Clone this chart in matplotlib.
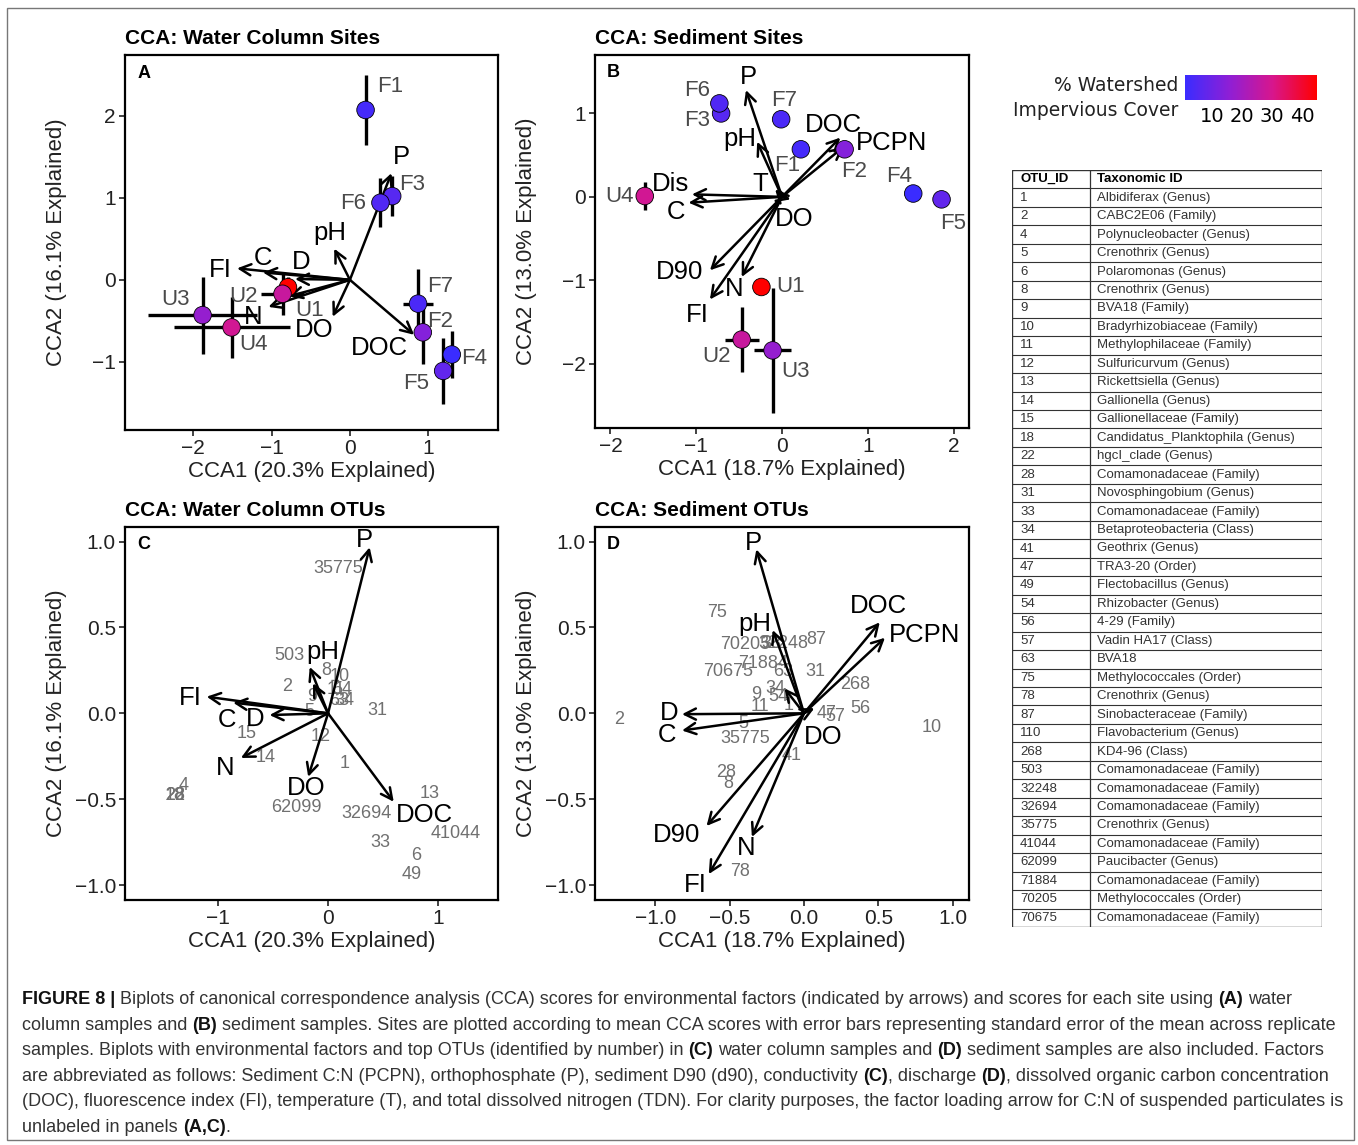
import matplotlib
matplotlib.use("Agg")
import matplotlib.pyplot as plt
from matplotlib import font_manager
from matplotlib.cm import ScalarMappable
from matplotlib.colors import LinearSegmentedColormap, Normalize
from matplotlib.patches import Rectangle

plt.rcParams["font.family"] = ["Liberation Sans", "DejaVu Sans"]

W, H = 1358, 1145

# ---------------- sites (panels A and B) ----------------
site_names = ["F1", "F2", "F3", "F4", "F5", "F6", "F7", "U1", "U2", "U3", "U4"]
impervious = [3, 14, 6, 1, 8, 5, 4, 45, 27, 17, 29]

wc_x = [0.20, 0.93, 0.54, 1.30, 1.19, 0.39, 0.87, -0.79, -0.86, -1.88, -1.51]
wc_y = [2.07, -0.64, 1.02, -0.91, -1.11, 0.94, -0.29, -0.09, -0.17, -0.43, -0.58]
wc_xerr = [0.03, 0.05, 0.05, 0.05, 0.05, 0.05, 0.19, 0.10, 0.28, 0.70, 0.74]
wc_yerr = [0.43, 0.39, 0.24, 0.29, 0.40, 0.30, 0.42, 0.12, 0.26, 0.47, 0.37]
wc_lab_x = [0.51, 1.15, 0.79, 1.59, 0.85, 0.04, 1.15, -0.51, -1.36, -2.23, -1.23]
wc_lab_y = [2.36, -0.51, 1.16, -0.96, -1.26, 0.93, -0.08, -0.37, -0.20, -0.24, -0.79]

sed_x = [0.22, 0.73, -0.71, 1.53, 1.86, -0.73, -0.01, -0.24, -0.47, -0.11, -1.60]
sed_y = [0.57, 0.57, 1.00, 0.04, -0.03, 1.12, 0.93, -1.08, -1.71, -1.84, 0.01]
sed_xerr = [0.03, 0.05, 0.03, 0.03, 0.05, 0.03, 0.03, 0.06, 0.20, 0.22, 0.03]
sed_yerr = [0.03, 0.05, 0.03, 0.03, 0.06, 0.03, 0.06, 0.06, 0.39, 0.75, 0.17]
sed_lab_x = [0.06, 0.84, -0.99, 1.36, 1.99, -0.99, 0.03, 0.10, -0.76, 0.16, -1.90]
sed_lab_y = [0.37, 0.30, 0.91, 0.24, -0.32, 1.28, 1.16, -1.08, -1.91, -2.09, 0.01]

# ---------------- environmental arrows ----------------
a_env = ["P", "pH", "D", "C", "FI", "N", "DO", "DOC", ""]
a_tip_x = [0.53, -0.20, -0.70, -1.11, -1.44, -1.04, -0.22, 0.82, -0.78]
a_tip_y = [1.30, 0.38, 0.01, 0.09, 0.14, -0.33, -0.45, -0.67, -0.20]
a_lab_x = [0.66, -0.25, -0.62, -1.11, -1.66, -1.24, -0.45, 0.38, 0]
a_lab_y = [1.50, 0.57, 0.22, 0.27, 0.12, -0.45, -0.61, -0.83, 0]

b_env = ["P", "pH", "T", "DOC", "PCPN", "Dis", "C", "DO", "D90", "FI", "N"]
b_tip_x = [-0.42, -0.29, -0.08, 0.68, 0.72, -1.05, -1.09, 0.10, -0.84, -0.84, -0.47]
b_tip_y = [1.28, 0.66, 0.09, 0.71, 0.60, 0.03, -0.07, -0.03, -0.88, -1.23, -0.96]
b_lab_x = [-0.39, -0.49, -0.25, 0.60, 1.28, -1.30, -1.24, 0.14, -1.19, -0.99, -0.56]
b_lab_y = [1.44, 0.69, 0.16, 0.86, 0.64, 0.16, -0.18, -0.26, -0.90, -1.41, -1.11]

c_env = ["P", "pH", "", "FI", "C", "D", "N", "DO", "DOC"]
c_tip_x = [0.377, -0.166, -0.136, -1.10, -0.86, -0.53, -0.79, -0.18, 0.595]
c_tip_y = [0.967, 0.27, 0.175, 0.097, 0.062, -0.01, -0.26, -0.37, -0.515]
c_lab_x = [0.33, -0.045, 0, -1.25, -0.92, -0.66, -0.93, -0.196, 0.875]
c_lab_y = [1.01, 0.36, 0, 0.087, -0.04, -0.035, -0.32, -0.437, -0.59]

d_env = ["P", "pH", "", "DOC", "PCPN", "D", "C", "DO", "D90", "FI", "N"]
d_tip_x = [-0.32, -0.21, -0.13, 0.51, 0.545, -0.82, -0.82, 0.07, -0.655, -0.64, -0.35]
d_tip_y = [0.955, 0.485, 0.145, 0.53, 0.44, -0.005, -0.10, 0.03, -0.656, -0.936, -0.72]
d_lab_x = [-0.34, -0.33, 0, 0.50, 0.81, -0.905, -0.92, 0.13, -0.856, -0.733, -0.385]
d_lab_y = [0.99, 0.52, 0, 0.625, 0.456, 0.0, -0.126, -0.136, -0.709, -1.0, -0.786]

# ---------------- OTU scores (panels C and D) ----------------
c_otu = ["35775", "503", "8", "10", "11", "54", "63", "34", "9", "5", "2", "31", "15",
         "12", "14", "1", "4", "18", "22", "28", "62099", "32694", "13", "41044",
         "33", "6", "49"]
c_otu_x = [0.09, -0.35, -0.015, 0.106, 0.07, 0.13, 0.10, 0.15, -0.14, -0.17, -0.37, 0.45,
           -0.74, -0.07, -0.57, 0.15, -1.31, -1.39, -1.39, -1.39, -0.29, 0.35, 0.92, 1.16,
           0.47, 0.80, 0.76]
c_otu_y = [0.845, 0.334, 0.25, 0.213, 0.14, 0.136, 0.077, 0.077, 0.10, 0.01, 0.155, 0.015,
           -0.117, -0.136, -0.256, -0.29, -0.42, -0.48, -0.48, -0.48, -0.55, -0.586, -0.466,
           -0.70, -0.75, -0.83, -0.94]

d_otu = ["75", "70205", "33", "32248", "87", "71884", "70675", "63", "31", "268", "34",
         "54", "9", "11", "1", "47", "57", "56", "5", "35775", "41", "28", "8", "2", "10", "78"]
d_otu_x = [-0.587, -0.397, -0.217, -0.14, 0.085, -0.274, -0.51, -0.14, 0.074, 0.343, -0.195,
           -0.173, -0.318, -0.296, -0.106, 0.153, 0.208, 0.377, -0.408, -0.397, -0.083, -0.52,
           -0.51, -1.24, 0.86, -0.43]
d_otu_y = [0.59, 0.398, 0.408, 0.408, 0.427, 0.291, 0.242, 0.242, 0.242, 0.165, 0.146,
           0.097, 0.107, 0.038, 0.048, 0.0, -0.02, 0.029, -0.058, -0.146, -0.243, -0.344,
           -0.41, -0.035, -0.08, -0.92]

# ---------------- OTU table ----------------
otu_ids = ["1", "2", "4", "5", "6", "8", "9", "10", "11", "12", "13", "14", "15", "18",
           "22", "28", "31", "33", "34", "41", "47", "49", "54", "56", "57", "63", "75",
           "78", "87", "110", "268", "503", "32248", "32694", "35775", "41044", "62099",
           "71884", "70205", "70675"]
taxa = ["Albidiferax (Genus)", "CABC2E06 (Family)", "Polynucleobacter (Genus)",
        "Crenothrix (Genus)", "Polaromonas (Genus)", "Crenothrix (Genus)", "BVA18 (Family)",
        "Bradyrhizobiaceae (Family)", "Methylophilaceae (Family)", "Sulfuricurvum (Genus)",
        "Rickettsiella (Genus)", "Gallionella (Genus)", "Gallionellaceae (Family)",
        "Candidatus_Planktophila (Genus)", "hgcI_clade (Genus)", "Comamonadaceae (Family)",
        "Novosphingobium (Genus)", "Comamonadaceae (Family)", "Betaproteobacteria (Class)",
        "Geothrix (Genus)", "TRA3-20 (Order)", "Flectobacillus (Genus)", "Rhizobacter (Genus)",
        "4-29 (Family)", "Vadin HA17 (Class)", "BVA18", "Methylococcales (Order)",
        "Crenothrix (Genus)", "Sinobacteraceae (Family)", "Flavobacterium (Genus)",
        "KD4-96 (Class)", "Comamonadaceae (Family)", "Comamonadaceae (Family)",
        "Comamonadaceae (Family)", "Crenothrix (Genus)", "Comamonadaceae (Family)",
        "Paucibacter (Genus)", "Comamonadaceae (Family)", "Methylococcales (Order)",
        "Comamonadaceae (Family)"]

caption = [
    [("FIGURE 8 |", True), (" Biplots of canonical correspondence analysis (CCA) scores for environmental "
     "factors (indicated by arrows) and scores for each site using ", False), ("(A)", True),
     (" water", False)],
    [("column samples and ", False), ("(B)", True), (" sediment samples. Sites are plotted according "
     "to mean CCA scores with error bars representing standard error of the mean across replicate", False)],
    [("samples. Biplots with environmental factors and top OTUs (identified by number) in ", False),
     ("(C)", True), (" water column samples and ", False), ("(D)", True),
     (" sediment samples are also included. Factors", False)],
    [("are abbreviated as follows: Sediment C:N (PCPN), orthophosphate (P), sediment D90 (d90), "
      "conductivity ", False), ("(C)", True), (", discharge ", False), ("(D)", True),
     (", dissolved organic carbon concentration", False)],
    [("(DOC), fluorescence index (FI), temperature (T), and total dissolved nitrogen (TDN). For "
      "clarity purposes, the factor loading arrow for C:N of suspended particulates is", False)],
    [("unlabeled in panels ", False), ("(A,C)", True), (".", False)],
]

cmap = LinearSegmentedColormap.from_list("imperv", ["#3a2cff", "#8e1fd6", "#d8168c", "#ff0000"])
norm = Normalize(vmin=1, vmax=45)


def px_axes(fig, left, top, right, bottom):
    return fig.add_axes([left / W, 1 - bottom / H, (right - left) / W, (bottom - top) / H])


def style_axes(ax, title, letter, xlab, ylab, xlim, ylim, xticks, yticks):
    ax.set_xlim(*xlim)
    ax.set_ylim(*ylim)
    ax.set_xticks(xticks)
    ax.set_yticks(yticks)
    for sp in ax.spines.values():
        sp.set_linewidth(1.6)
    ax.tick_params(length=4.5, width=1.2, labelsize=15, pad=2, colors="#222222")
    ax.set_title(title, loc="left", fontsize=15, fontweight="bold", pad=8)
    ax.text(0.05, 0.952, letter, transform=ax.transAxes, fontsize=13, fontweight="bold",
            ha="center", va="center")
    ax.set_xlabel(xlab, fontsize=16, color="#222222")
    ax.set_ylabel(ylab, fontsize=16, color="#222222")
    ax.xaxis.set_label_coords(0.5, -0.082)
    ax.yaxis.set_label_coords(-0.155, 0.5)


def draw_arrows(ax, names, tx, ty, lx, ly):
    for name, x, y, a, b in zip(names, tx, ty, lx, ly):
        ax.annotate("", xy=(x, y), xytext=(0, 0),
                    arrowprops=dict(arrowstyle="->", color="black", lw=1.8,
                                    mutation_scale=20, shrinkA=0, shrinkB=0), zorder=3)
        if name:
            ax.text(a, b, name, fontsize=18.5, ha="center", va="center", zorder=6)


def draw_sites(ax, xs, ys, xerr, yerr, lab_x, lab_y):
    ax.errorbar(xs, ys, xerr=xerr, yerr=yerr, fmt="none", ecolor="black",
                elinewidth=2.4, capsize=0, zorder=2)
    ax.scatter(xs, ys, c=impervious, cmap=cmap, norm=norm, s=160,
               edgecolors="black", linewidths=0.6, zorder=4)
    for name, a, b in zip(site_names, lab_x, lab_y):
        ax.text(a, b, name, fontsize=16, color="#4a4a4a", ha="center", va="center", zorder=5)


def draw_otus(ax, ids, xs, ys):
    for name, a, b in zip(ids, xs, ys):
        ax.text(a, b, name, fontsize=13, color="#707070", ha="center", va="center", zorder=2)


fig = plt.figure(figsize=(W / 100, H / 100), dpi=100)

# panel A
ax_a = px_axes(fig, 125, 55, 498, 430)
draw_arrows(ax_a, a_env, a_tip_x, a_tip_y, a_lab_x, a_lab_y)
draw_sites(ax_a, wc_x, wc_y, wc_xerr, wc_yerr, wc_lab_x, wc_lab_y)
style_axes(ax_a, "CCA: Water Column Sites", "A", "CCA1 (20.3% Explained)",
           "CCA2 (16.1% Explained)", (-2.87, 1.89), (-1.83, 2.74), [-2, -1, 0, 1], [-1, 0, 1, 2])

# panel B
ax_b = px_axes(fig, 595, 55, 969, 428)
draw_arrows(ax_b, b_env, b_tip_x, b_tip_y, b_lab_x, b_lab_y)
draw_sites(ax_b, sed_x, sed_y, sed_xerr, sed_yerr, sed_lab_x, sed_lab_y)
style_axes(ax_b, "CCA: Sediment Sites", "B", "CCA1 (18.7% Explained)",
           "CCA2 (13.0% Explained)", (-2.18, 2.18), (-2.77, 1.70), [-2, -1, 0, 1, 2], [-2, -1, 0, 1])

# panel C
ax_c = px_axes(fig, 125, 527, 498, 900)
draw_otus(ax_c, c_otu, c_otu_x, c_otu_y)
draw_arrows(ax_c, c_env, c_tip_x, c_tip_y, c_lab_x, c_lab_y)
style_axes(ax_c, "CCA: Water Column OTUs", "C", "CCA1 (20.3% Explained)",
           "CCA2 (16.1% Explained)", (-1.84, 1.54), (-1.087, 1.085), [-1, 0, 1],
           [-1.0, -0.5, 0.0, 0.5, 1.0])

# panel D
ax_d = px_axes(fig, 595, 527, 969, 900)
draw_otus(ax_d, d_otu, d_otu_x, d_otu_y)
draw_arrows(ax_d, d_env, d_tip_x, d_tip_y, d_lab_x, d_lab_y)
style_axes(ax_d, "CCA: Sediment OTUs", "D", "CCA1 (18.7% Explained)",
           "CCA2 (13.0% Explained)", (-1.405, 1.11), (-1.087, 1.085),
           [-1.0, -0.5, 0.0, 0.5, 1.0], [-1.0, -0.5, 0.0, 0.5, 1.0])

# colour bar
cax = px_axes(fig, 1185, 75, 1317, 100)
cb = fig.colorbar(ScalarMappable(norm=norm, cmap=cmap), cax=cax, orientation="horizontal",
                  ticks=[10, 20, 30, 40])
cb.outline.set_visible(False)
cax.tick_params(length=0, labelsize=14, pad=5)
for t in cax.get_xticklabels():
    t.set_fontfamily("DejaVu Sans")
fig.text(1178 / W, 1 - 98 / H, "% Watershed\nImpervious Cover", fontsize=13.5,
         family="DejaVu Sans", ha="right", va="center", multialignment="right",
         linespacing=1.35, color="#222222")

# OTU table
tab = px_axes(fig, 1012, 170, 1322, 927)
n_rows = len(otu_ids) + 1
tab.set_xlim(0, 1)
tab.set_ylim(n_rows, 0)
tab.axis("off")
tab.add_patch(Rectangle((0, 0), 1, n_rows, fill=False, lw=1.0, edgecolor="#333333"))
tab.plot([0.252, 0.252], [0, n_rows], color="#333333", lw=0.9)
for i in range(1, n_rows):
    tab.plot([0, 1], [i, i], color="#333333", lw=0.8)
tab.text(0.026, 0.5, "OTU_ID", fontsize=9.5, fontweight="bold", va="center")
tab.text(0.274, 0.5, "Taxonomic ID", fontsize=9.5, fontweight="bold", va="center")
for i, (oid, tx) in enumerate(zip(otu_ids, taxa), start=1):
    tab.text(0.026, i + 0.5, oid, fontsize=9.5, va="center", color="#333333")
    tab.text(0.274, i + 0.5, tx, fontsize=9.5, va="center", color="#333333")

# outer frame
fig.patches.append(Rectangle((7 / W, 1 - 1140 / H), 1347 / W, 1132 / H, transform=fig.transFigure,
                             fill=False, edgecolor="#777777", lw=1.0))

# caption
names = {f.name for f in font_manager.fontManager.ttflist}
cap_family = "Liberation Sans Narrow" if "Liberation Sans Narrow" in names else "Liberation Sans"
renderer = fig.canvas.get_renderer()


def text_width(s, size, bold):
    t = fig.text(0, 0, s, fontsize=size, family=cap_family,
                 fontweight="bold" if bold else "normal")
    w = t.get_window_extent(renderer).width
    t.remove()
    return w


def line_width(pieces, size):
    sp = text_width("x x", size, False) - text_width("xx", size, False)
    w = 0
    for s, b in pieces:
        core = s.strip()
        lead = len(s) - len(s.lstrip())
        trail = len(s) - len(s.rstrip())
        w += (lead + trail) * sp + text_width(core, size, b)
    return w


cap_size = 12 * 1318 / line_width(caption[1], 12)
space_w = text_width("x x", cap_size, False) - text_width("xx", cap_size, False)
for k, pieces in enumerate(caption):
    x = 22
    y = 1000 + k * 25.4
    for s, b in pieces:
        core = s.strip()
        lead = len(s) - len(s.lstrip())
        trail = len(s) - len(s.rstrip())
        x += lead * space_w
        t = fig.text(x / W, 1 - y / H, core, fontsize=cap_size, family=cap_family,
                     fontweight="bold" if b else "normal", ha="left", va="center",
                     color="#111111" if b else "#333333")
        x += t.get_window_extent(renderer).width + trail * space_w

fig.savefig("out.png", dpi=100)
